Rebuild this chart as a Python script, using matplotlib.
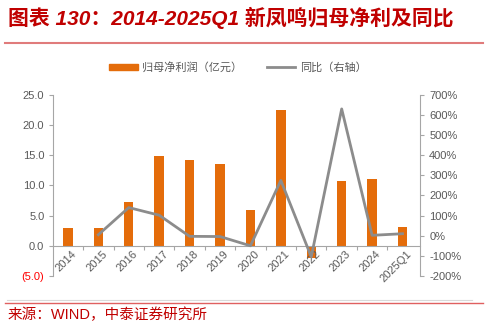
import matplotlib.pyplot as plt
from matplotlib.patches import Patch
from matplotlib.lines import Line2D
import numpy as np

plt.rcParams['font.family'] = ['Liberation Sans', 'Noto Sans CJK SC', 'DejaVu Sans']

# data
years = ['2014', '2015', '2016', '2017', '2018', '2019', '2020',
         '2021', '2022', '2023', '2024', '2025Q1']
profit = [2.9, 3.0, 7.2, 14.9, 14.2, 13.5, 6.0, 22.5, -2.0, 10.8, 11.0, 3.1]
yoy = [np.nan, 5, 140, 102, -3, -4, -50, 275, -105, 630, 2, 10]

left_ticks = [-5, 0, 5, 10, 15, 20, 25]
right_ticks = [-200, -100, 0, 100, 200, 300, 400, 500, 600, 700]

orange = '#E46C0A'
gray_line = '#8C8C8C'
axis_gray = '#A6A6A6'
text_gray = '#595959'
red = '#C00000'

fig = plt.figure(figsize=(4.88, 3.27), dpi=100)
ax1 = fig.add_axes([0.108, 0.156, 0.753, 0.554])

x = np.arange(len(years))
ax1.bar(x, profit, width=0.31, color=orange, zorder=2)
ax1.set_xlim(-0.5, 11.58)
ax1.set_ylim(-5, 25)
ax1.set_yticks(left_ticks)
ax1.set_yticklabels(['(5.0)' if v < 0 else f'{v:.1f}' for v in left_ticks])
for lbl in ax1.get_yticklabels():
    lbl.set_color('#FF0000' if lbl.get_text().startswith('(') else text_gray)
ax1.tick_params(axis='y', labelsize=8, length=3, color=axis_gray, pad=3)

# x axis drawn at zero
ax1.spines['top'].set_visible(False)
ax1.spines['right'].set_visible(False)
ax1.spines['bottom'].set_position(('data', 0))
ax1.spines['bottom'].set_color(axis_gray)
ax1.spines['left'].set_color(axis_gray)
ax1.set_xticks(x[:-1] + 0.5)
ax1.set_xticklabels([])
ax1.tick_params(axis='x', length=3, color=axis_gray)
for xi, lab in zip(x, years):
    ax1.annotate(lab, (xi + 0.12, 0), xytext=(0, -2), textcoords='offset points',
                 rotation=45, ha='right', va='top', rotation_mode='anchor',
                 fontsize=8, color=text_gray)

ax2 = ax1.twinx()
ax2.plot(x, yoy, color=gray_line, linewidth=2, zorder=3)
ax2.set_ylim(-200, 700)
ax2.set_yticks(right_ticks)
ax2.set_yticklabels([f'{v}%' for v in right_ticks])
ax2.tick_params(axis='y', labelsize=8, length=3, color=axis_gray, labelcolor=text_gray)
for s in ['top', 'left', 'bottom']:
    ax2.spines[s].set_visible(False)
ax2.spines['right'].set_color(axis_gray)

# legend
handles = [Patch(color=orange), Line2D([0], [0], color=gray_line, linewidth=2)]
fig.legend(handles, ['归母净利润（亿元）', '同比（右轴）'], loc='center',
           bbox_to_anchor=(0.487, 0.795), ncol=2, frameon=False, fontsize=8,
           labelcolor=text_gray, columnspacing=2.2, handlelength=2.6,
           handleheight=0.45, handletextpad=0.4)

# title and source
fig.text(0.016, 0.945, '图表 130：2014-2025Q1 新凤鸣归母净利及同比', fontsize=15,
         fontweight='bold', style='italic', color=red, va='center')
fig.add_artist(Line2D([0.01, 0.99], [0.867, 0.867], color='#E07B7B', linewidth=1.5))
fig.add_artist(Line2D([0.015, 0.968], [0.083, 0.083], color='#D9D9D9', linewidth=0.8))
fig.add_artist(Line2D([0.01, 0.99], [0.073, 0.073], color='#E06060', linewidth=1))
fig.text(0.016, 0.037, '来源：WIND，中泰证券研究所', fontsize=10.5, color=red, va='center')

fig.savefig('out.png', dpi=100, facecolor='white')
